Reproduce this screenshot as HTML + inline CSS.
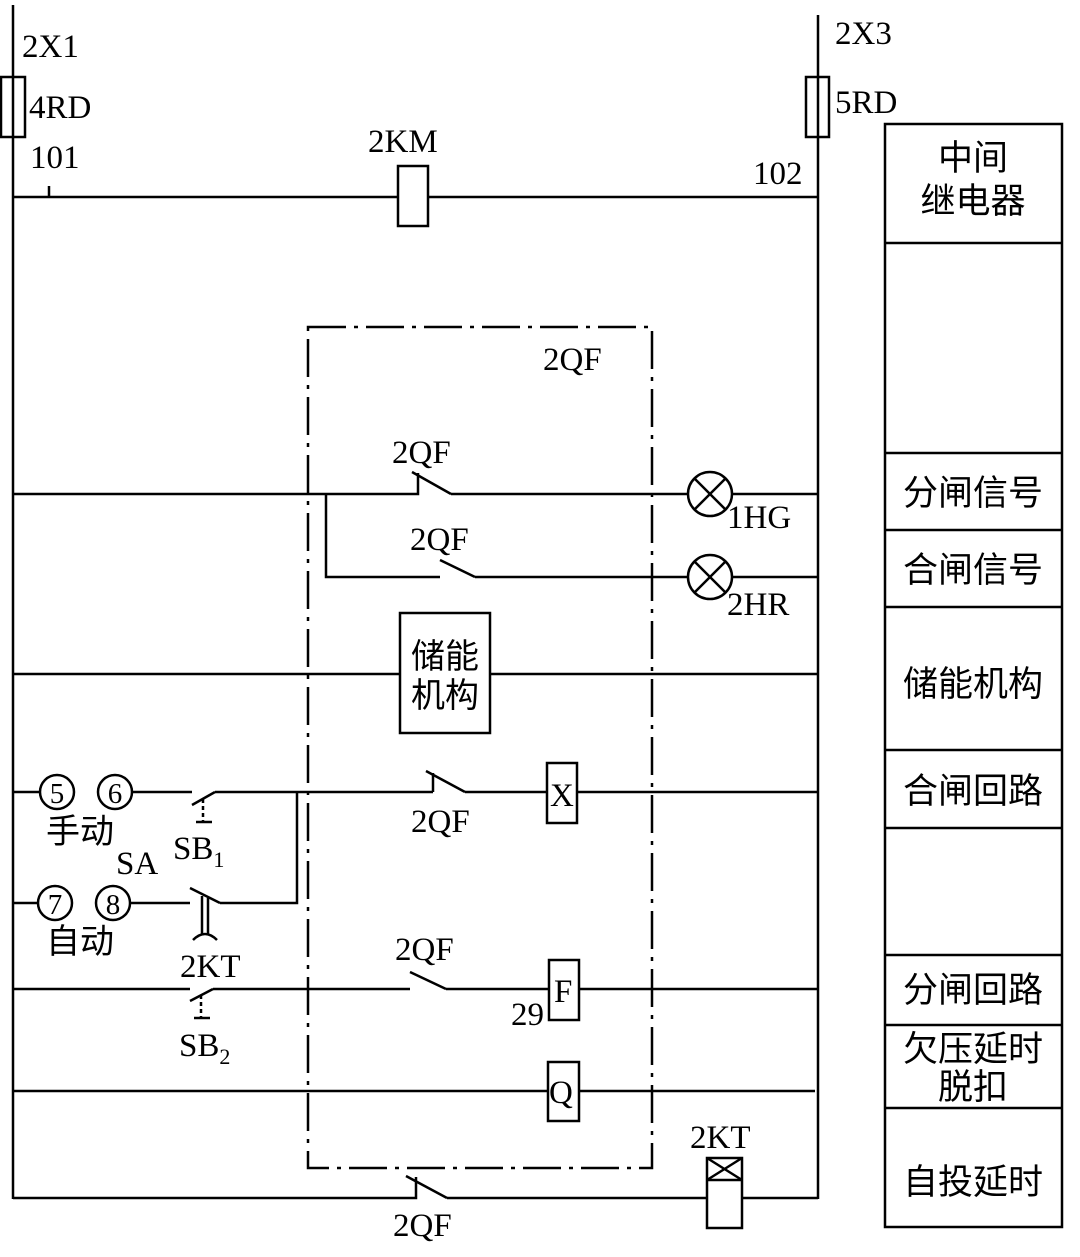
<!DOCTYPE html>
<html><head><meta charset="utf-8"><style>
html,body{margin:0;padding:0;background:#fff;}
svg{display:block;}
.t{font-family:"Liberation Serif",serif;font-size:33px;fill:#000;}
.c{font-family:"Liberation Sans","Noto Sans CJK SC",sans-serif;font-size:34px;fill:#000;}
</style></head><body>
<svg width="1080" height="1257" viewBox="0 0 1080 1257" xmlns="http://www.w3.org/2000/svg">
<g stroke="#000" stroke-width="2.5" fill="none">
<line x1="13" y1="5" x2="13" y2="1199"/>
<line x1="818" y1="15" x2="818" y2="1199"/>
<rect x="1" y="77" width="24" height="60"/>
<rect x="806" y="77" width="23" height="60"/>
<line x1="13" y1="197" x2="818" y2="197"/>
<line x1="49" y1="186" x2="49" y2="197"/>
<rect x="398" y="166" width="30" height="60" fill="#fff"/>
<rect x="308" y="327" width="344" height="841" stroke-dasharray="38,8,4,8"/>
<polyline points="13,494 418,494 418,473"/>
<line x1="412" y1="472" x2="451" y2="494"/>
<line x1="451" y1="494" x2="688" y2="494"/>
<circle cx="710" cy="494" r="22"/>
<line x1="694" y1="478" x2="726" y2="510"/><line x1="726" y1="478" x2="694" y2="510"/>
<line x1="732" y1="494" x2="818" y2="494"/>
<polyline points="326,494 326,577 440,577"/>
<line x1="440" y1="560" x2="475" y2="577"/>
<line x1="475" y1="577" x2="688" y2="577"/>
<circle cx="710" cy="577" r="22"/>
<line x1="694" y1="561" x2="726" y2="593"/><line x1="726" y1="561" x2="694" y2="593"/>
<line x1="732" y1="577" x2="818" y2="577"/>
<line x1="13" y1="674" x2="400" y2="674"/>
<rect x="400" y="613" width="90" height="120"/>
<line x1="490" y1="674" x2="818" y2="674"/>
<line x1="13" y1="792" x2="40" y2="792"/>
<circle cx="57" cy="792" r="17"/>
<circle cx="115" cy="792" r="17"/>
<line x1="132" y1="792" x2="192" y2="792"/>
<line x1="192" y1="805" x2="215" y2="792"/>
<line x1="215" y1="792" x2="433" y2="792"/>
<line x1="203" y1="799" x2="203" y2="822" stroke-dasharray="4,3"/>
<line x1="196" y1="822" x2="212" y2="822"/>
<polyline points="297,792 297,903 220,903"/>
<line x1="433" y1="792" x2="433" y2="773"/>
<line x1="426" y1="771" x2="465" y2="792"/>
<line x1="465" y1="792" x2="547" y2="792"/>
<rect x="547" y="763" width="30" height="60"/>
<line x1="577" y1="792" x2="818" y2="792"/>
<line x1="13" y1="903" x2="38" y2="903"/>
<circle cx="55" cy="903" r="17"/>
<circle cx="113" cy="903" r="17"/>
<line x1="130" y1="903" x2="190" y2="903"/>
<line x1="190" y1="888" x2="220" y2="903"/>
<line x1="202" y1="896" x2="202" y2="935"/><line x1="208" y1="898" x2="208" y2="935"/>
<path d="M193,940 Q205,928 217,940"/>
<line x1="13" y1="989" x2="190" y2="989"/>
<line x1="190" y1="1001" x2="213" y2="989"/>
<line x1="213" y1="989" x2="410" y2="989"/>
<line x1="201" y1="995" x2="201" y2="1018" stroke-dasharray="4,3"/>
<line x1="194" y1="1018" x2="210" y2="1018"/>
<line x1="410" y1="972" x2="446" y2="989"/>
<line x1="446" y1="989" x2="549" y2="989"/>
<rect x="549" y="960" width="30" height="60"/>
<line x1="579" y1="989" x2="818" y2="989"/>
<line x1="13" y1="1091" x2="548" y2="1091"/>
<rect x="548" y="1062" width="31" height="59"/>
<line x1="579" y1="1091" x2="815" y2="1091"/>
<polyline points="13,1198 416,1198 416,1177"/>
<line x1="406" y1="1176" x2="447" y2="1198"/>
<line x1="447" y1="1198" x2="818" y2="1198"/>
<rect x="707" y="1158" width="35" height="70" fill="#fff"/>
<line x1="707" y1="1180" x2="742" y2="1180"/>
<line x1="707" y1="1158" x2="742" y2="1180"/><line x1="742" y1="1158" x2="707" y2="1180"/>
<rect x="885" y="124" width="177" height="1103"/>
<line x1="885" y1="243" x2="1062" y2="243"/>
<line x1="885" y1="453" x2="1062" y2="453"/>
<line x1="885" y1="530" x2="1062" y2="530"/>
<line x1="885" y1="607" x2="1062" y2="607"/>
<line x1="885" y1="750" x2="1062" y2="750"/>
<line x1="885" y1="828" x2="1062" y2="828"/>
<line x1="885" y1="955" x2="1062" y2="955"/>
<line x1="885" y1="1025" x2="1062" y2="1025"/>
<line x1="885" y1="1108" x2="1062" y2="1108"/>
</g>
<g class="t">
<text x="22" y="57">2X1</text>
<text x="29" y="118">4RD</text>
<text x="30" y="168">101</text>
<text x="368" y="152">2KM</text>
<text x="753" y="184">102</text>
<text x="835" y="44">2X3</text>
<text x="835" y="113">5RD</text>
<text x="543" y="370">2QF</text>
<text x="392" y="463">2QF</text>
<text x="410" y="550">2QF</text>
<text x="727" y="528">1HG</text>
<text x="727" y="615">2HR</text>
<text x="411" y="832">2QF</text>
<text x="550" y="806">X</text>
<text x="173" y="859">SB<tspan font-size="22" dy="8">1</tspan></text>
<text x="116" y="874">SA</text>
<text x="180" y="977">2KT</text>
<text x="395" y="960">2QF</text>
<text x="554" y="1002">F</text>
<text x="511" y="1025">29</text>
<text x="179" y="1056">SB<tspan font-size="22" dy="8">2</tspan></text>
<text x="549" y="1103">Q</text>
<text x="690" y="1148">2KT</text>
<text x="393" y="1236">2QF</text>
<text x="57" y="803" font-size="29" text-anchor="middle">5</text>
<text x="115" y="803" font-size="29" text-anchor="middle">6</text>
<text x="55" y="914" font-size="29" text-anchor="middle">7</text>
<text x="113" y="914" font-size="29" text-anchor="middle">8</text>
</g>
<g class="c">
<text x="46" y="843">手动</text>
<text x="46" y="953">自动</text>
<text x="445" y="668" text-anchor="middle">储能</text>
<text x="445" y="707" text-anchor="middle">机构</text>
<g text-anchor="middle" font-size="35">
<text x="973" y="170">中间</text>
<text x="973" y="213">继电器</text>
<text x="973" y="505">分闸信号</text>
<text x="973" y="582">合闸信号</text>
<text x="973" y="696">储能机构</text>
<text x="973" y="803">合闸回路</text>
<text x="973" y="1002">分闸回路</text>
<text x="973" y="1061">欠压延时</text>
<text x="973" y="1099">脱扣</text>
<text x="973" y="1194">自投延时</text>
</g>
</g>
</svg>
</body></html>
